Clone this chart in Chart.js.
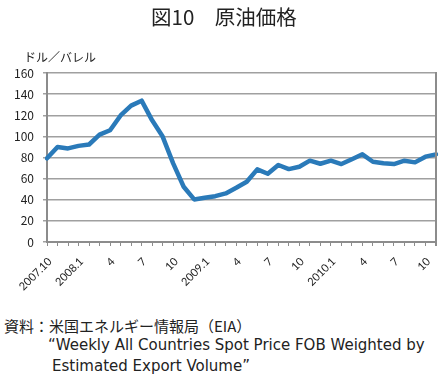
<!DOCTYPE html>
<html><head><meta charset="utf-8">
<script src="https://cdn.jsdelivr.net/npm/chart.js@4"></script>
<style>
html,body{margin:0;padding:0;background:#fff;}
#wrap{position:relative;width:448px;height:380px;overflow:hidden;font-family:"Noto Sans CJK JP",sans-serif;color:#222;}
#title{position:absolute;left:0;width:448px;top:2px;text-align:center;font-size:20.5px;line-height:28px;}
#unit{position:absolute;left:24px;top:49px;font-size:12px;line-height:16px;}
#cv{position:absolute;left:0;top:0;}
.src{position:absolute;font-size:15px;line-height:18px;white-space:nowrap;}
.en{font-family:"DejaVu Sans",sans-serif;font-size:15px;}
</style></head>
<body><div id="wrap">
<canvas id="cv" width="448" height="300"></canvas>
<div id="title">図10　原油価格</div>
<div id="unit">ドル／バレル</div>
<div class="src" style="left:4px;top:317px;">資料：米国エネルギー情報局（EIA）</div>
<div class="src en" style="left:48px;top:336px;">“Weekly All Countries Spot Price FOB Weighted by</div>
<div class="src en" style="left:52px;top:357px;">Estimated Export Volume”</div>
</div>
<script>
const months = ['2007.10','2007.11','2007.12','2008.1','2008.2','2008.3','2008.4','2008.5','2008.6','2008.7','2008.8','2008.9','2008.10','2008.11','2008.12',
 '2009.1','2009.2','2009.3','2009.4','2009.5','2009.6','2009.7','2009.8','2009.9','2009.10','2009.11','2009.12',
 '2010.1','2010.2','2010.3','2010.4','2010.5','2010.6','2010.7','2010.8','2010.9','2010.10','2010.11'];
const prices = [79.2, 90, 88.6, 91, 92.3, 101.6, 105.8, 119.8, 129.1, 133.8, 115.2, 99.8, 74.5, 52.3, 40.3,
 41.8, 43.4, 46, 51.3, 57, 68.8, 64.6, 72.9, 69, 71.3, 77, 74.1,
 77, 73.8, 78.3, 83, 76, 74.5, 73.8, 77, 75.4, 80.8, 83];
const tickLabels = ['2007.10','2008.1','4','7','10','2009.1','4','7','10','2010.1','4','7','10'];
const yTicks = [0,20,40,60,80,100,120,140,160];

const rightBorder = {
  id:'rightBorder',
  afterDatasetsDraw(chart){
    const {ctx, chartArea:a} = chart;
    ctx.save(); ctx.strokeStyle='#8c8c8c'; ctx.lineWidth=2;
    ctx.beginPath(); ctx.moveTo(a.right, a.top-1); ctx.lineTo(a.right, a.bottom+4); ctx.stroke();
    ctx.restore();
  }
};

new Chart(document.getElementById('cv'), {
  type:'line',
  data:{labels:months, datasets:[{data:prices, borderColor:'#2a7ab9', borderWidth:4.5, pointRadius:0, tension:0, fill:false, borderJoinStyle:'round', borderCapStyle:'round'}]},
  options:{
    responsive:false, animation:false,
    layout:{padding:{left:0,top:73,right:12,bottom:0}},
    plugins:{legend:{display:false}, tooltip:{enabled:false}},
    scales:{
      x:{
        offset:false,
        afterFit(s){ s.height = 58; s.paddingRight = 0; },
        grid:{drawOnChartArea:false, color:'#8c8c8c', lineWidth:1, tickLength:4},
        border:{color:'#8c8c8c', width:2},
        ticks:{autoSkip:false, maxRotation:45, minRotation:45, padding:9, labelOffset:3, color:'#222',
          font:{family:'Lato', size:11},
          callback(v,i){ return i%3===0 ? tickLabels[i/3] : ''; }}
      },
      y:{
        min:0, max:160,
        afterFit(s){ s.width = 47; },
        afterBuildTicks(s){ s.ticks = yTicks.map(v=>({value:v})); },
        grid:{color:'#a0a0a0', lineWidth:1.5, tickLength:4},
        border:{color:'#8c8c8c', width:2},
        ticks:{padding:9, color:'#222', font:{family:'Noto Sans CJK JP', size:12}}
      }
    }
  },
  plugins:[rightBorder]
});
</script>
</body></html>
